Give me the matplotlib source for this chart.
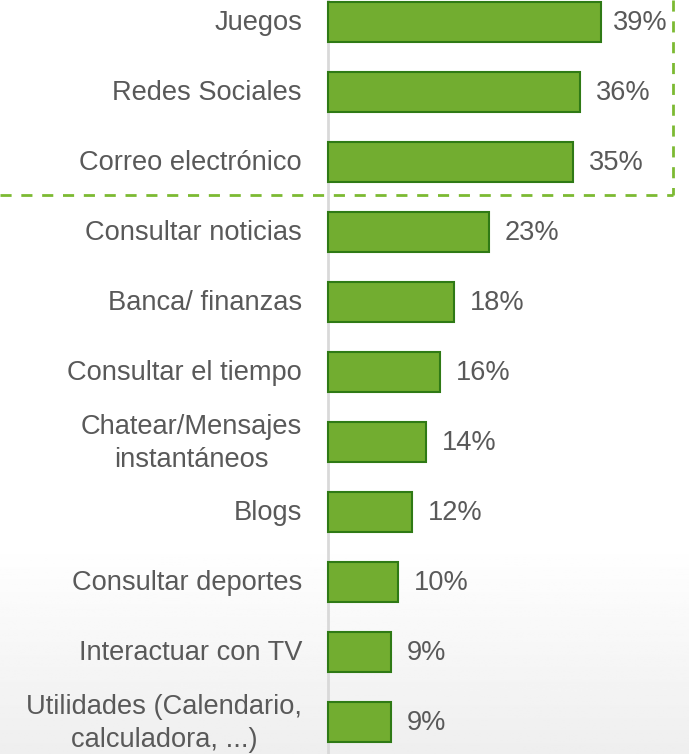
import numpy as np
import matplotlib.pyplot as plt

categorias = ['Juegos', 'Redes Sociales', 'Correo electrónico', 'Consultar noticias',
              'Banca/ finanzas', 'Consultar el tiempo', 'Chatear/Mensajes\ninstantáneos',
              'Blogs', 'Consultar deportes', 'Interactuar con TV',
              'Utilidades (Calendario,\ncalculadora, ...)']
valores = [39, 36, 35, 23, 18, 16, 14, 12, 10, 9, 9]
etiquetas = ['39%', '36%', '35%', '23%', '18%', '16%', '14%', '12%', '10%', '9%', '9%']

W, H = 689, 754
px = 7.0          # pixels per percent
x0 = 328          # pixel of the axis
y0 = 22           # pixel of first bar centre
paso = 70         # pixels between bars

plt.rcParams['font.family'] = ['Liberation Sans', 'DejaVu Sans']
gris = '#595959'
fs = 19.6

fig = plt.figure(figsize=(W / 100, H / 100), dpi=100)

# background gradient
bg = fig.add_axes([0, 0, 1, 1])
filas = np.linspace(0, 1, 300)
col = np.where(filas < 0.72, 1.0, 1.0 - (filas - 0.72) / 0.28 * 0.065)
img = np.repeat(col[:, None], 2, axis=1)
bg.imshow(img, cmap='gray', vmin=0, vmax=1, aspect='auto', extent=[0, 1, 0, 1], origin='upper')
bg.set_axis_off()

ax = fig.add_axes([0, 0, 1, 1])
ax.patch.set_alpha(0)
ax.set_xlim(-x0 / px, (W - x0) / px)
ax.set_ylim((H - y0) / paso, -y0 / paso)
ax.set_axis_off()

pos = np.arange(len(categorias))
ax.barh(pos, valores, height=0.57, color='#72ad30', edgecolor='#2f7a15', linewidth=1.5, zorder=3)
ax.axvline(0, color='#d9d9d9', linewidth=2, zorder=2)

for i, (c, v, e) in enumerate(zip(categorias, valores, etiquetas)):
    ax.text(-26 / px, i + 0.02, c, ha='right', va='center', multialignment='center',
            fontsize=fs, color=gris, linespacing=1.33)
    off = 8.5 if v == max(valores) else 11.5
    ax.annotate(e, (v, i + 0.02), xytext=(off, 0), textcoords='offset points', ha='left', va='center',
                fontsize=fs, color=gris)

# dashed box around the top three
yb = (195 - y0) / paso
xr = (673 - x0) / px
ax.plot([-x0 / px, xr], [yb, yb], color='#7cba32', linestyle=(0, (4, 3.5)), linewidth=2, zorder=4)
ax.plot([xr, xr], [-y0 / paso, yb], color='#7cba32', linestyle=(0, (4, 3.5)), linewidth=2, zorder=4)

fig.savefig('out.png', dpi=100)
